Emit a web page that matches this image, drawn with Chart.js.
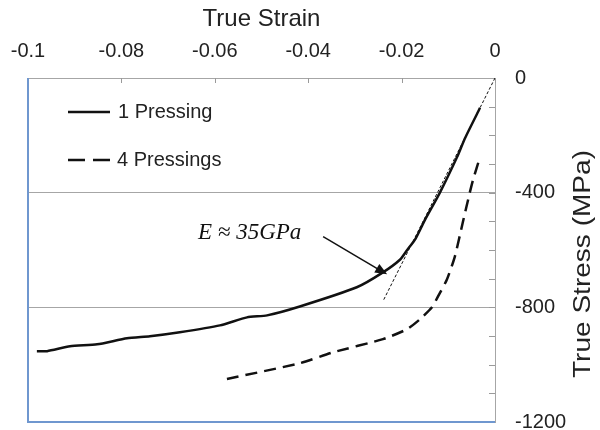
<!DOCTYPE html>
<html>
<head>
<meta charset="utf-8">
<script src="https://cdn.jsdelivr.net/npm/chart.js@4"></script>
<style>
  html, body { margin: 0; padding: 0; background: #fff; }
  #wrap { width: 600px; height: 430px; }
</style>
</head>
<body>
<div id="wrap"><canvas id="myChart" width="600" height="430"></canvas></div>
<script>
// 1 Pressing (solid)
let strain1 = [-0.0981, -0.0959, -0.0910, -0.0852, -0.0788, -0.0739, -0.0675, -0.0589, -0.0531, -0.0488,
  -0.0418, -0.0296, -0.0240, -0.0203, -0.0188, -0.0170, -0.0150, -0.0118, -0.0081, -0.0064, -0.0032];
let stress1 = [-953, -953, -936, -929, -908, -901, -887, -863, -835, -828,
  -797, -730, -678, -633, -600, -560, -495, -400, -275, -209, -104];

// 4 Pressings (dashed)
let strain2 = [-0.0574, -0.0418, -0.0347, -0.0240, -0.0188, -0.0161, -0.0135, -0.0122, -0.0103,
  -0.0086, -0.0069, -0.0054, -0.0047, -0.0032];
let stress2 = [-1050, -995, -957, -911, -876, -842, -800, -762, -703,
  -623, -504, -400, -355, -275];

// elastic fit line
let fitStrain = [0, -0.024];
let fitStress = [0, -779];

let xTicks = [-0.1, -0.08, -0.06, -0.04, -0.02, 0];
let yTicks = [0, -400, -800, -1200];
let seriesNames = ["1 Pressing", "4 Pressings"];

const fontFamily = '"Liberation Sans", Arial, sans-serif';

function toPoints(xs, ys) {
  return xs.map((x, i) => ({ x: x, y: ys[i] }));
}

function noPadding(scale) {
  scale.paddingLeft = 0;
  scale.paddingRight = 0;
  scale.paddingTop = 0;
  scale.paddingBottom = 0;
}

const extras = {
  id: "extras",
  afterDraw(chart) {
    const ctx = chart.ctx;
    const area = chart.chartArea;
    const xs = chart.scales.x;
    const ys = chart.scales.y;
    ctx.save();

    // small inside tick marks
    ctx.strokeStyle = "#9a9a9a";
    ctx.lineWidth = 1;
    ctx.beginPath();
    xTicks.forEach((v) => {
      const px = Math.round(xs.getPixelForValue(v)) + 0.5;
      ctx.moveTo(px, area.top);
      ctx.lineTo(px, area.top + 5);
    });
    for (let v = -100; v > -1200; v -= 100) {
      const py = Math.round(ys.getPixelForValue(v)) + 0.5;
      ctx.moveTo(area.right - 6, py);
      ctx.lineTo(area.right, py);
    }
    ctx.stroke();

    // blue left and bottom border
    ctx.strokeStyle = "#6f97cf";
    ctx.lineWidth = 2;
    ctx.beginPath();
    ctx.moveTo(area.left, area.top);
    ctx.lineTo(area.left, area.bottom);
    ctx.lineTo(area.right, area.bottom);
    ctx.stroke();

    // legend
    ctx.strokeStyle = "#111";
    ctx.lineWidth = 2.5;
    ctx.beginPath();
    ctx.moveTo(area.left + 40, 112);
    ctx.lineTo(area.left + 82, 112);
    ctx.stroke();
    ctx.setLineDash([17, 8]);
    ctx.beginPath();
    ctx.moveTo(area.left + 40, 160);
    ctx.lineTo(area.left + 82, 160);
    ctx.stroke();
    ctx.setLineDash([]);
    ctx.fillStyle = "#222";
    ctx.font = "20px " + fontFamily;
    ctx.textBaseline = "middle";
    ctx.textAlign = "left";
    ctx.fillText(seriesNames[0], area.left + 90, 112);
    ctx.fillText(seriesNames[1], area.left + 89, 160);

    // annotation E ~ 35GPa with arrow
    ctx.font = 'italic 23px "Liberation Serif", "Times New Roman", serif';
    ctx.fillStyle = "#111";
    ctx.fillText("E \u2248 35GPa", xs.getPixelForValue(-0.0636), ys.getPixelForValue(-539));
    const x0 = xs.getPixelForValue(-0.0368), y0 = ys.getPixelForValue(-553);
    const x1 = xs.getPixelForValue(-0.0231), y1 = ys.getPixelForValue(-685);
    const ang = Math.atan2(y1 - y0, x1 - x0);
    ctx.strokeStyle = "#111";
    ctx.lineWidth = 1.5;
    ctx.beginPath();
    ctx.moveTo(x0, y0);
    ctx.lineTo(x1 - 10 * Math.cos(ang), y1 - 10 * Math.sin(ang));
    ctx.stroke();
    ctx.beginPath();
    ctx.moveTo(x1, y1);
    ctx.lineTo(x1 - 12 * Math.cos(ang) + 5 * Math.sin(ang), y1 - 12 * Math.sin(ang) - 5 * Math.cos(ang));
    ctx.lineTo(x1 - 12 * Math.cos(ang) - 5 * Math.sin(ang), y1 - 12 * Math.sin(ang) + 5 * Math.cos(ang));
    ctx.closePath();
    ctx.fill();

    // right axis title, reading upwards
    ctx.font = "23px " + fontFamily;
    ctx.fillStyle = "#222";
    ctx.textAlign = "center";
    ctx.translate(584, 264);
    ctx.rotate(-Math.PI / 2);
    const w = ctx.measureText("True Stress (MPa)").width;
    ctx.scale(228 / w, 1);
    ctx.fillText("True Stress (MPa)", 0, 0);
    ctx.restore();
  },
};

function chartJs() {
  const ctx = document.getElementById("myChart");

  new Chart(ctx, {
    type: "scatter",
    data: {
      datasets: [
        {
          label: seriesNames[0],
          data: toPoints(strain1, stress1),
          showLine: true,
          borderColor: "#111",
          borderWidth: 2.5,
          pointRadius: 0,
          tension: 0.2,
        },
        {
          label: seriesNames[1],
          data: toPoints(strain2, stress2),
          showLine: true,
          borderColor: "#111",
          borderWidth: 2.5,
          borderDash: [12, 7],
          pointRadius: 0,
          tension: 0.2,
        },
        {
          label: "fit",
          data: toPoints(fitStrain, fitStress),
          showLine: true,
          borderColor: "#111",
          borderWidth: 1,
          borderDash: [3, 2],
          pointRadius: 0,
        },
      ],
    },
    options: optionsOfChart,
    plugins: [extras],
  });
}

let optionsOfChart = {
  responsive: false,
  animation: false,
  layout: { padding: { left: 28, bottom: 8, top: 0, right: 0 } },
  plugins: {
    legend: { display: false },
    tooltip: { enabled: false },
  },
  scales: {
    x: {
      type: "linear",
      position: "top",
      min: -0.1,
      max: 0,
      afterBuildTicks: (scale) => {
        scale.ticks = xTicks.map((v) => ({ value: v }));
      },
      afterFit: (scale) => {
        scale.height = 78;
        noPadding(scale);
      },
      ticks: {
        color: "#222",
        padding: 15,
        maxRotation: 0,
        font: { size: 20, family: fontFamily },
        callback: (v) => String(+Number(v).toFixed(2)),
      },
      grid: { display: false, drawTicks: false },
      border: { display: true, color: "#a6a6a6", width: 1 },
      title: {
        display: true,
        text: "True Strain",
        color: "#222",
        font: { size: 24, family: fontFamily },
        padding: { top: 5, bottom: 0 },
      },
    },
    y: {
      type: "linear",
      position: "right",
      min: -1200,
      max: 0,
      afterBuildTicks: (scale) => {
        scale.ticks = yTicks.map((v) => ({ value: v }));
      },
      afterFit: (scale) => {
        scale.width = 105;
        noPadding(scale);
      },
      ticks: {
        color: "#222",
        padding: 20,
        font: { size: 20, family: fontFamily },
        callback: (v) => String(v),
      },
      grid: { color: "#a6a6a6", lineWidth: 1, drawTicks: false },
      border: { display: true, color: "#a6a6a6", width: 1 },
    },
  },
};

chartJs();
</script>
</body>
</html>
